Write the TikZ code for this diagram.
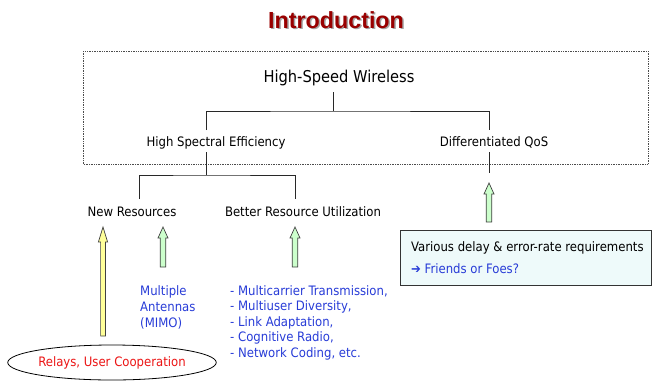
\documentclass[tikz,border=0pt]{standalone}
\usepackage{fontspec}
\setmainfont{DejaVu Sans Condensed}
\newfontfamily\titlefont{Liberation Sans}
\usetikzlibrary{shapes.geometric}
\definecolor{titlered}{RGB}{153,0,0}
\definecolor{txtblue}{RGB}{40,60,215}
\definecolor{txtred}{RGB}{235,20,20}
\definecolor{arrgreen}{RGB}{204,255,204}
\definecolor{arryellow}{RGB}{255,255,153}
\definecolor{boxfill}{RGB}{238,250,250}
\definecolor{linegray}{RGB}{40,40,40}
\tikzset{
  lbl/.style={inner sep=0pt, anchor=base, font=\fontsize{13}{15}\selectfont, text=black},
  treeline/.style={draw=linegray, line width=0.9pt},
  blk/.style={draw=black!75, line width=0.7pt, line join=miter},
}
\newcommand\blockarrow[7]{%
  \draw[blk, fill=#1] (#2-#5,#4) -- (#2-#5,#3+#7) -- (#2-#6,#3+#7) -- (#2,#3) -- (#2+#6,#3+#7) -- (#2+#5,#3+#7) -- (#2+#5,#4) -- cycle;}
\begin{document}
\begin{tikzpicture}[x=1pt,y=-1pt]
\useasboundingbox (0,0) rectangle (653,381);
% title
\node[inner sep=0pt, text=black!35, font=\titlefont\bfseries\fontsize{23.3}{26}\selectfont] at (337.5,21.5) {Introduction};
\node (title) [inner sep=0pt, text=titlered, font=\titlefont\bfseries\fontsize{23.3}{26}\selectfont] at (336,20) {Introduction};
% dotted frame
\draw[densely dotted, draw=black!70, line width=0.7pt] (83,51) rectangle (648,164);
% texts
\node (hsw) [lbl, font=\fontsize{16.3}{19}\selectfont] at (339,82.5) {High-Speed Wireless};
\node (hse) [lbl] at (216,146.5) {High Spectral Efficiency};
\node (dqos) [lbl] at (494,146.5) {Differentiated QoS};
\node (newres) [lbl] at (132,216.5) {New Resources};
\node (better) [lbl] at (303,216.5) {Better Resource Utilization};
% tree coordinates
\coordinate (a0) at (333,92);
\coordinate (a1) at (333,111);
\coordinate (aL) at (206,130);
\coordinate (aR) at (489,130);
\coordinate (b0) at (206,152);
\coordinate (b1) at (206,175);
\coordinate (bL) at (139,199);
\coordinate (bR) at (295,199);
\coordinate (c0) at (489,152);
\coordinate (c1) at (489,173);
\draw[treeline] (a0) -- (a1);
\draw[treeline] (aL) |- (a1) -| (aR);
\draw[treeline] (b0) -- (b1);
\draw[treeline] (bL) |- (b1) -| (bR);
\draw[treeline] (c0) -- (c1);
% block arrows
\blockarrow{arryellow}{103}{227}{336}{2.4}{4.6}{15}
\blockarrow{arrgreen}{163}{227}{267}{2.8}{5}{11}
\blockarrow{arrgreen}{295}{227}{267}{2.8}{5}{11}
\blockarrow{arrgreen}{489}{183}{222}{2.8}{5}{11}
% requirement box
\draw[draw=black!80, line width=0.8pt, fill=boxfill] (400,230) rectangle (651,285);
\node (req) [lbl, anchor=base west] at (411,251) {Various delay \& error-rate requirements};
\node (foes) [lbl, anchor=base west, text=txtblue] at (411,273.5) {➔ Friends or Foes?};
% MIMO
\node (mimo) [lbl, anchor=base west, text=txtblue, align=left, font=\fontsize{13}{16}\selectfont] at (140,327.5) {Multiple\\Antennas\\(MIMO)};
% list
\node (list) [lbl, anchor=base west, text=txtblue, align=left, font=\fontsize{13}{15.6}\selectfont] at (230,357.5) {- Multicarrier Transmission,\\- Multiuser Diversity,\\- Link Adaptation,\\- Cognitive Radio,\\- Network Coding, etc.};
% ellipse
\node (relay) [ellipse, draw=black, line width=0.8pt, minimum width=200pt, minimum height=35pt, inner sep=0pt, text=txtred, font=\fontsize{13}{15}\selectfont] at (112,362.5) {Relays, User Cooperation};
\end{tikzpicture}
\end{document}
